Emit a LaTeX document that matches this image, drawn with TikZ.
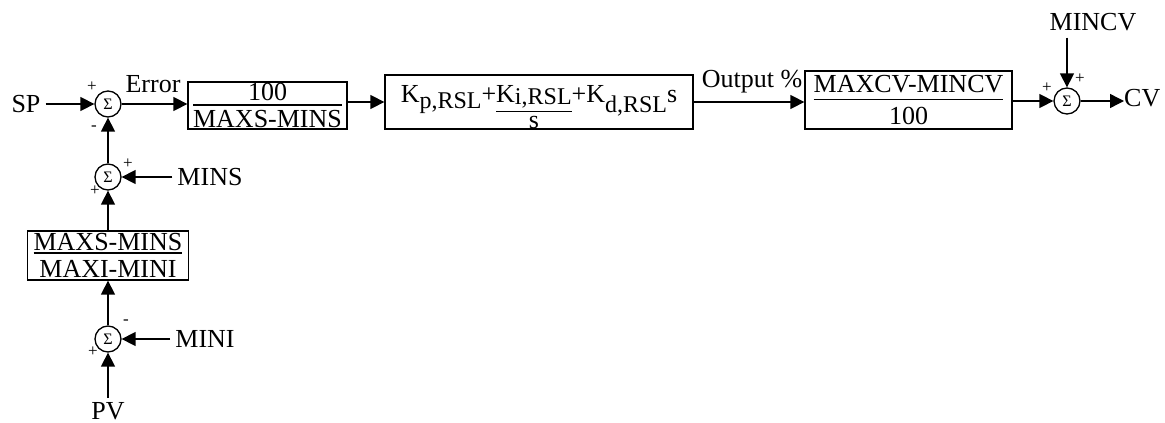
\documentclass[tikz,border=0pt]{standalone}
\usepackage{fontspec}
\setmainfont{Liberation Serif}
\usetikzlibrary{arrows.meta}
\newcommand{\lowsub}[2]{\raisebox{-#2}{\fontsize{24}{24}\selectfont #1}}
\newcommand{\vfrac}[5]{{\renewcommand{\arraystretch}{0}\setlength{\arrayrulewidth}{1.3pt}%
\begin{tabular}[#1]{@{}c@{}}\rule[-#2]{0pt}{#2}#4\\\hline\rule{0pt}{#3}#5\end{tabular}}}
\begin{document}
\begin{tikzpicture}[x=1pt,y=-1pt,
 lbl/.style={font=\fontsize{26}{30}\selectfont, inner sep=0pt},
 sgn/.style={font=\fontsize{17}{17}\selectfont, inner sep=0pt},
 sum/.style={circle,draw,line width=1.3pt,minimum size=26pt,inner sep=0pt,font=\fontsize{16}{16}\selectfont},
 blk/.style={draw,line width=1.3pt,inner sep=0pt,font=\fontsize{26}{30}\selectfont},
 arr/.style={line width=1.4pt,-{Triangle[length=14pt,width=14pt]}}]
\useasboundingbox (0,0) rectangle (1165,423);

% main row
\node[lbl] (sp) at (26,104) {SP};
\node[sum] (s1) at (108,104) {Σ};
\node[lbl,anchor=base] (err) at (153,92) {Error};
\node[blk,minimum width=159pt,minimum height=47pt] (b1) at (267.5,105.5) {\vfrac{c}{4pt}{22pt}{100}{MAXS-MINS}};
\node[blk,minimum width=308pt,minimum height=54pt] (b2) at (539,102) {\rule{0pt}{27pt}K\lowsub{p,RSL}{6pt}+\vfrac{t}{8pt}{16pt}{K\lowsub{i,RSL}{2pt}}{s}+K\lowsub{d,RSL}{10pt}s};
\node[lbl,anchor=base] (out) at (752,87) {Output \%};
\node[blk,minimum width=207pt,minimum height=58pt] (b3) at (908.5,100) {\vfrac{c}{6pt}{24pt}{MAXCV-MINCV}{100}};
\node[sum] (s4) at (1067,101) {Σ};
\node[lbl,anchor=base west] (cv) at (1124,106) {CV};
\node[lbl,anchor=base] (mincv) at (1093,30) {MINCV};
\coordinate (mtop) at ([yshift=-7pt]mincv.south);

% left chain
\node[sum] (s2) at (108,177) {Σ};
\node[lbl] (mins) at (210,177) {MINS};
\node[blk,minimum width=161pt,minimum height=49pt] (b4) at (108,255.5) {\vfrac{c}{2pt}{24pt}{MAXS-MINS}{MAXI-MINI}};
\node[sum] (s3) at (108,339) {Σ};
\node[lbl] (mini) at (205,339) {MINI};
\node[lbl] (pv) at (108,411) {PV};

% signs
\node[sgn] (s1a) at (92,87) {+};
\node[sgn] (s1b) at (94,128) {-};
\node[sgn] (s2a) at (128,164) {+};
\node[sgn] (s2b) at (95,191) {+};
\node[sgn] (s3a) at (126,322) {-};
\node[sgn] (s3b) at (93,352) {+};
\node[sgn] (s4a) at (1047,88) {+};
\node[sgn] (s4b) at (1080,79) {+};

% connectors
\draw[arr] ([xshift=5pt]sp.east) -- (s1.west);
\draw[arr] (s1.east) -- (s1.east -| b1.west);
\draw[arr] (b1.east |- b2.west) -- (b2.west);
\draw[arr] (b2.east) -- (b2.east -| b3.west);
\draw[arr] (b3.east |- s4.west) -- (s4.west);
\draw[arr] (s4.east) -- (s4.east -| cv.west);
\draw[arr] (mtop -| s4) -- (s4.north);
\draw[arr] (s2.north) -- (s1.south);
\draw[arr] ([xshift=-5pt]mins.west) -- (s2.east);
\draw[arr] (b4.north) -- (s2.south);
\draw[arr] (s3.north) -- (b4.south);
\draw[arr] ([xshift=-5pt]mini.west) -- (s3.east);
\draw[arr] ([yshift=4pt]pv.north) -- (s3.south);
\end{tikzpicture}
\end{document}
